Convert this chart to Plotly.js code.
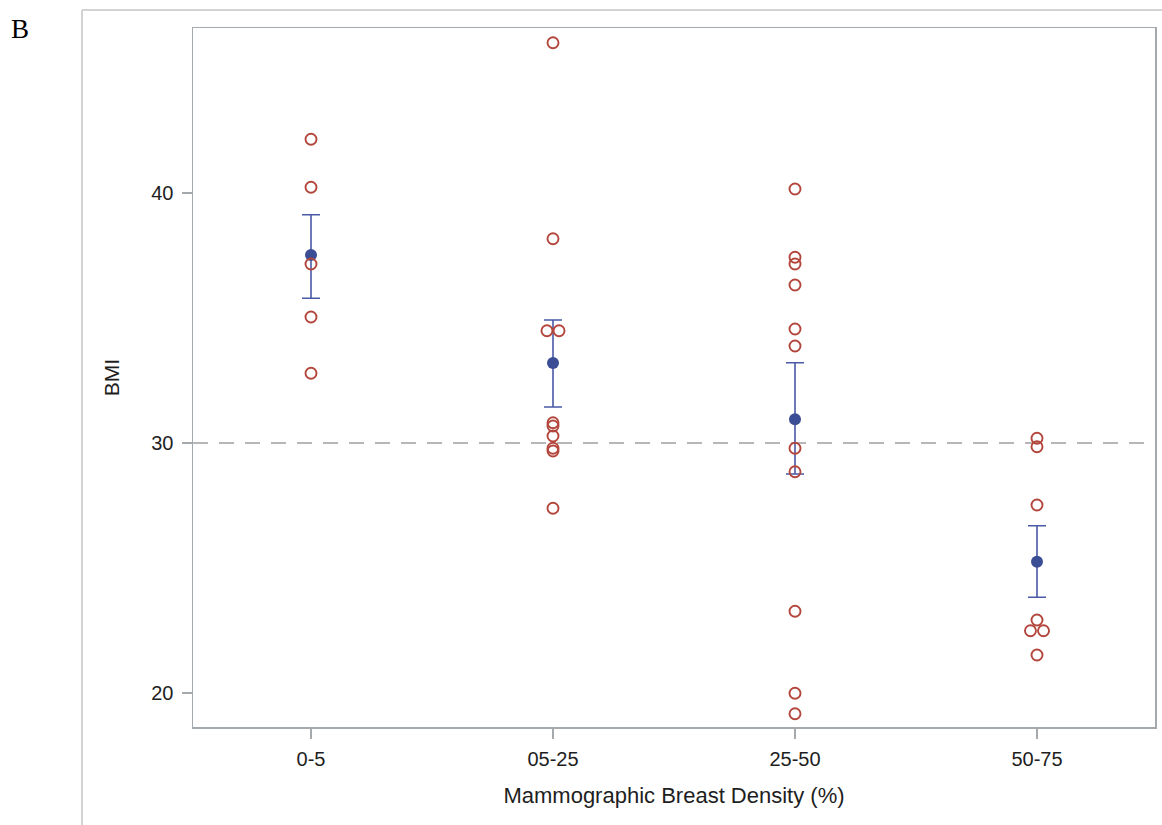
<!DOCTYPE html>
<html>
<head>
<meta charset="utf-8">
<script src="https://cdn.plot.ly/plotly-3.0.1.min.js"></script>
<style>
  html, body { margin: 0; padding: 0; background: #ffffff; }
  #chart { width: 1162px; height: 825px; }
</style>
</head>
<body>
<div id="chart"></div>
<script>
// Density groups on the x axis
const categories = ['0-5', '05-25', '25-50', '50-75'];

// Individual BMI values per density group
const bmi_0_5   = [42.15, 40.23, 37.16, 35.04, 32.79];
const bmi_05_25 = [46.01, 38.17, 34.49, 34.49, 30.81, 30.68, 30.28, 29.79, 29.68, 27.39];
const bmi_25_50 = [40.16, 37.43, 37.16, 36.32, 34.56, 33.88, 29.79, 28.85, 23.27, 19.99, 19.17];
const bmi_50_75 = [30.19, 29.85, 27.52, 22.92, 22.49, 22.49, 21.52];

// Side-by-side spread for tied values (fraction of a category step)
const tie_05_25 = [0, 0, -0.025, 0.025, 0, 0, 0, 0, 0, 0];
const tie_50_75 = [0, 0, 0, 0, -0.027, 0.027, 0];

// Group means with their error limits (mean +/- SE)
const meanBMI  = [37.52, 33.20, 30.95, 25.25];
const upperBMI = [39.13, 34.92, 33.21, 26.69];
const lowerBMI = [35.79, 31.44, 28.76, 23.83];

// Obesity threshold reference line
const refBMI = 30;

const groups = [bmi_0_5, bmi_05_25, bmi_25_50, bmi_50_75];
const ties = [null, tie_05_25, null, tie_50_75];

const pointX = [], pointY = [];
groups.forEach((vals, gi) => {
  vals.forEach((v, i) => {
    pointX.push(gi + (ties[gi] ? ties[gi][i] : 0));
    pointY.push(v);
  });
});

const catIdx = categories.map((c, i) => i);

const meanTrace = {
  type: 'scatter',
  mode: 'markers',
  x: catIdx,
  y: meanBMI,
  marker: { symbol: 'circle', size: 12, color: '#3b4d94' },
  error_y: {
    type: 'data',
    symmetric: false,
    array: upperBMI.map((u, i) => u - meanBMI[i]),
    arrayminus: meanBMI.map((m, i) => m - lowerBMI[i]),
    color: '#4a5aa6',
    thickness: 1.6,
    width: 9
  },
  hoverinfo: 'y',
  showlegend: false
};

const pointTrace = {
  type: 'scatter',
  mode: 'markers',
  x: pointX,
  y: pointY,
  marker: {
    symbol: 'circle-open',
    size: 11,
    color: '#b3463c',
    line: { color: '#b3463c', width: 1.9 }
  },
  hoverinfo: 'y',
  showlegend: false
};

const axisGrey = '#a4a9ae';
const textCol = '#1e1e1e';

const layout = {
  width: 1162,
  height: 825,
  margin: { l: 193, r: 7, t: 28, b: 98 },
  paper_bgcolor: '#ffffff',
  plot_bgcolor: '#ffffff',
  font: { family: 'Liberation Sans, Arial, sans-serif', color: textCol },
  xaxis: {
    range: [-0.4876, 3.4876],
    tickmode: 'array',
    tickvals: catIdx,
    ticktext: categories,
    showgrid: false,
    zeroline: false,
    showline: true,
    mirror: true,
    linecolor: axisGrey,
    linewidth: 1.5,
    ticks: 'outside',
    ticklen: 10,
    tickwidth: 1.3,
    tickcolor: axisGrey,
    ticklabelstandoff: 3,
    tickfont: { size: 20, color: textCol },
    title: { text: 'Mammographic Breast Density (%)', font: { size: 22, color: textCol }, standoff: 19 }
  },
  yaxis: {
    range: [18.64, 46.6],
    tickmode: 'array',
    tickvals: [20, 30, 40],
    showgrid: false,
    zeroline: false,
    showline: true,
    mirror: true,
    linecolor: axisGrey,
    linewidth: 1.5,
    ticks: 'outside',
    ticklen: 10,
    tickwidth: 1.3,
    tickcolor: axisGrey,
    ticklabelstandoff: 4,
    tickfont: { size: 20, color: textCol },
    title: { text: 'BMI', font: { size: 21, color: textCol }, standoff: 26 }
  },
  shapes: [
    {
      type: 'line', xref: 'paper', yref: 'y',
      x0: 0, x1: 1, y0: refBMI, y1: refBMI,
      line: { color: '#a0a0a0', width: 1.5, dash: '15px,11px' },
      layer: 'below'
    },
    {
      type: 'line', xref: 'paper', yref: 'paper',
      x0: -0.1154, x1: 1.01, y0: 1.0258, y1: 1.0258,
      line: { color: '#d3d3d3', width: 2 }
    },
    {
      type: 'line', xref: 'paper', yref: 'paper',
      x0: -0.1154, x1: -0.1154, y0: 1.0258, y1: -0.15,
      line: { color: '#d3d3d3', width: 2 }
    }
  ],
  annotations: [
    {
      text: 'B', xref: 'paper', yref: 'paper',
      x: -0.18, y: 0.9986, xanchor: 'center', yanchor: 'middle',
      showarrow: false,
      font: { family: 'Liberation Serif, Times New Roman, serif', size: 27, color: '#000000' }
    }
  ]
};

Plotly.newPlot('chart', [meanTrace, pointTrace], layout, { displayModeBar: false, staticPlot: true });
</script>
</body>
</html>
